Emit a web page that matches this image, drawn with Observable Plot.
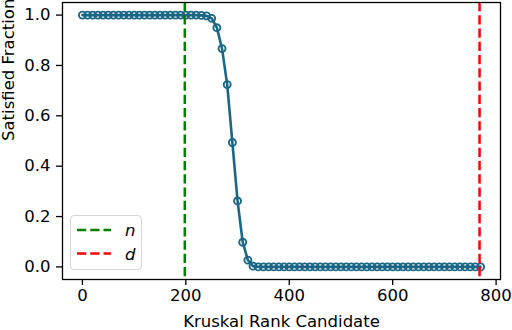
<!DOCTYPE html>
<html>
<head>
<meta charset="utf-8">
<script src="https://cdn.jsdelivr.net/npm/d3@7"></script>
<script src="https://cdn.jsdelivr.net/npm/@observablehq/plot@0.6"></script>
<style>
  body { margin: 0; background: white; }
  #wrap { position: relative; width: 512px; height: 330px; font-family: "DejaVu Sans", sans-serif; }
  #legend { position: absolute; left: 70px; top: 215px; width: 72px; height: 55px;
    border: 1px solid #d6d6d6; border-radius: 4px; background: rgba(255,255,255,0.8); box-sizing: border-box; }
</style>
</head>
<body>
<div id="wrap"></div>
<script>
// Kruskal rank candidates (x) and satisfied fraction (y)
const candidates = [0,10,20,30,40,50,60,70,80,90,100,110,120,130,140,150,160,170,180,190,
  200,210,220,230,240,250,260,270,280,290,300,310,320,330,340,350,360,370,380,390,
  400,410,420,430,440,450,460,470,480,490,500,510,520,530,540,550,560,570,580,590,
  600,610,620,630,640,650,660,670,680,690,700,710,720,730,740,750,760,770];
const fractions = [1,1,1,1,1,1,1,1,1,1,1,1,1,1,1,1,1,1,1,1,
  1,1,1,0.999,0.997,0.987,0.95,0.867,0.724,0.494,0.262,0.098,0.027,0.003,0,0,0,0,0,0,
  0,0,0,0,0,0,0,0,0,0,0,0,0,0,0,0,0,0,0,0,
  0,0,0,0,0,0,0,0,0,0,0,0,0,0,0,0,0,0];
const markers = [{name: "n", value: 198, color: "#008000"}, {name: "d", value: 768, color: "#ff0000"}];
const xTicks = [0, 200, 400, 600, 800];
const yTicks = [0, 0.2, 0.4, 0.6, 0.8, 1.0];
const xLabel = "Kruskal Rank Candidate";
const yLabel = "Satisfied Fraction";

const data = candidates.map((c, i) => ({x: c, y: fractions[i]}));
const lineColor = "#1b6785";

const chart = Plot.plot({
  width: 512,
  height: 330,
  marginLeft: 62,
  marginRight: 12,
  marginTop: 2,
  marginBottom: 51,
  style: {fontFamily: "DejaVu Sans, sans-serif", fontSize: "16.5px", color: "black", background: "white"},
  x: {domain: [-38.5, 808.5]},
  y: {domain: [-0.05, 1.05]},
  marks: [
    Plot.line(data, {x: "x", y: "y", stroke: lineColor, strokeWidth: 2.6}),
    Plot.dot(data, {x: "x", y: "y", r: 3.5, stroke: lineColor, strokeWidth: 1.9, fill: "none"}),
    Plot.ruleX(markers, {x: "value", stroke: "color", strokeWidth: 2.5, strokeDasharray: "9.25,4"}),
    Plot.frame({stroke: "black", strokeWidth: 1.3}),
    Plot.axisX(xTicks, {tickSize: 6, tickPadding: 4, strokeWidth: 1.3, label: null}),
    Plot.axisY(yTicks, {tickSize: 6, tickPadding: 6, strokeWidth: 1.3, tickFormat: d3.format(".1f"), label: null}),
    Plot.text([xLabel], {frameAnchor: "bottom", dy: 47, lineAnchor: "bottom", fontSize: 16.5}),
    Plot.text([yLabel], {frameAnchor: "left", rotate: -90, dx: -54, lineAnchor: "middle", fontSize: 16.5})
  ]
});
document.getElementById("wrap").appendChild(chart);

// legend
const legend = document.createElement("div");
legend.id = "legend";
const ns = "http://www.w3.org/2000/svg";
const lsvg = document.createElementNS(ns, "svg");
lsvg.setAttribute("width", 72); lsvg.setAttribute("height", 55);
lsvg.style.position = "absolute"; lsvg.style.left = "-1px"; lsvg.style.top = "-1px";
markers.forEach((m, i) => {
  const y = 15 + i * 23.6;
  const l = document.createElementNS(ns, "line");
  l.setAttribute("x1", 7); l.setAttribute("x2", 41); l.setAttribute("y1", y); l.setAttribute("y2", y);
  l.setAttribute("stroke", m.color); l.setAttribute("stroke-width", 2.5);
  l.setAttribute("stroke-dasharray", "9.25,4");
  lsvg.appendChild(l);
  const t = document.createElementNS(ns, "text");
  t.setAttribute("x", 55); t.setAttribute("y", y + 6);
  t.setAttribute("font-family", "DejaVu Sans, sans-serif");
  t.setAttribute("font-style", "italic");
  t.setAttribute("font-size", "16.5px");
  t.textContent = m.name;
  lsvg.appendChild(t);
});
legend.appendChild(lsvg);
document.getElementById("wrap").appendChild(legend);
</script>
</body>
</html>
